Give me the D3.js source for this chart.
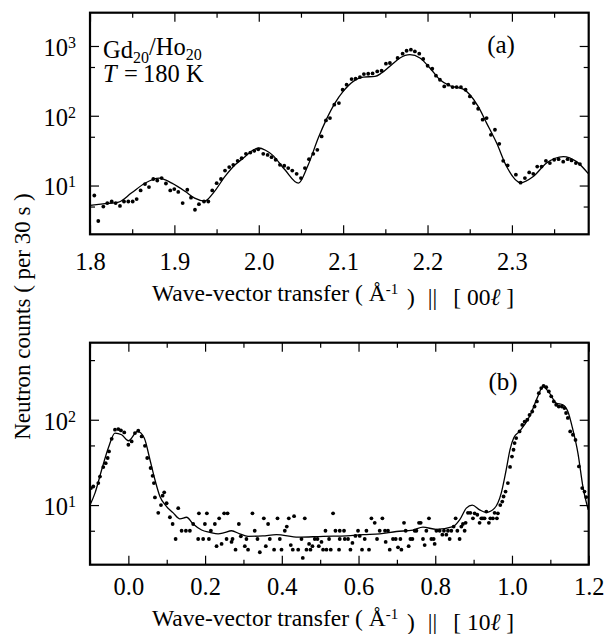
<!DOCTYPE html>
<html>
<head>
<meta charset="utf-8">
<script src="https://cdn.jsdelivr.net/npm/d3@7"></script>
<style>
  body { margin: 0; background: #fff; }
  text { font-family: "Liberation Serif", "Times New Roman", serif; fill: #000; }
</style>
</head>
<body>
<svg id="chart" width="607" height="634"></svg>
<script>
// ---- panel (a): [00l] scan, measured points ----
const qA = [1.8051, 1.8098, 1.8158, 1.8205, 1.8257, 1.8304, 1.8355, 1.8403, 1.8454, 1.8506,
  1.8553, 1.8600, 1.8652, 1.8699, 1.8750, 1.8797, 1.8849, 1.8900, 1.8951, 1.8999,
  1.9046, 1.9098, 1.9153, 1.9197, 1.9244, 1.9291, 1.9351, 1.9402, 1.9449, 1.9501,
  1.9552, 1.9600, 1.9650, 1.9698, 1.9750, 1.9797, 1.9848, 1.9900, 1.9947, 1.9994,
  2.0053, 2.0105, 2.0152, 2.0200, 2.0251, 2.0302, 2.0349, 2.0397, 2.0449, 2.0500,
  2.0547, 2.0595, 2.0646, 2.0694, 2.0745, 2.0796, 2.0844, 2.0895, 2.0950, 2.0994,
  2.1041, 2.1100, 2.1148, 2.1199, 2.1246, 2.1297, 2.1349, 2.1404, 2.1456, 2.1507,
  2.1554, 2.1645, 2.1705, 2.1752, 2.1803, 2.1850, 2.1902, 2.1949, 2.2001, 2.2056,
  2.2100, 2.2147, 2.2198, 2.2246, 2.2297, 2.2345, 2.2396, 2.2451, 2.2502, 2.2550,
  2.2600, 2.2653, 2.2700, 2.2751, 2.2799, 2.2850, 2.2897, 2.2949, 2.3047, 2.3103,
  2.3154, 2.3205, 2.3253, 2.3300, 2.3352, 2.3403, 2.3450, 2.3501, 2.3553, 2.3608,
  2.3660, 2.3707, 2.3758, 2.3806];
const countsA = [7.2, 3.1, 5.0, 5.6, 5.9, 5.6, 5.1, 5.9, 5.9, 5.9,
  6.4, 8.5, 10.5, 9.5, 12.4, 11.8, 12.8, 10.7, 8.5, 8.9,
  8.1, 5.6, 8.7, 6.7, 4.5, 5.4, 5.9, 5.9, 8.5, 10.8,
  12.4, 16.4, 18.4, 19.8, 22.6, 24.7, 28.5, 29.7, 31.4, 33,
  28.5, 27.5, 25.5, 23.4, 19.8, 19.2, 17.8, 16.4, 14.7, 12.8,
  17.8, 23.9, 28.5, 32.5, 50.5, 85.7, 92.7, 144, 152, 236,
  279, 336, 340, 359, 396, 400, 404, 432, 442, 557,
  570, 673, 775, 855, 885, 836, 775, 651, 521, 472,
  375, 328, 263, 279, 258, 258, 258, 236, 189, 152,
  126, 88, 92.7, 53.3, 63, 39.6, 22.6, 19.4, 14.3, 11.0,
  12.8, 15.4, 14.7, 18.7, 18.7, 22.6, 21, 23.4, 23.9, 22,
  23.9, 22.9, 21, 20.3];

// panel (a): fitted curve
const fitQA = [1.800, 1.818, 1.834, 1.849, 1.865, 1.882, 1.897, 1.913, 1.924, 1.936,
  1.946, 1.960, 1.972, 1.984, 1.992, 2.000, 2.008, 2.016, 2.031, 2.047,
  2.058, 2.0705, 2.080, 2.0903, 2.100, 2.112, 2.1238, 2.1377, 2.1456, 2.1575,
  2.1673, 2.1791, 2.191, 2.2028, 2.2147, 2.2265, 2.2423, 2.2502, 2.260, 2.270,
  2.2819, 2.2937, 2.3103, 2.3253, 2.3411, 2.3608, 2.3766, 2.3908];
const fitA = [5.2, 5.5, 5.8, 7.8, 10.8, 12.8, 10.8, 8.2, 6.6, 6.0,
  7.8, 13.5, 19.8, 26, 31.5, 34.5, 32, 27.5, 16.8, 10.8,
  19, 48, 88, 152, 223, 311, 359, 366, 410, 540,
  673, 750, 673, 483, 328, 269, 241, 200, 136, 78.5,
  40.6, 18.7, 11.0, 13.5, 21, 26, 22, 14.7];

// ---- panel (b): [10l] scan, measured points ----
const qB = [-0.0974, -0.0914, -0.0784, -0.074, -0.0654, -0.0591, -0.0539, -0.0505, -0.0435, -0.0349,
  -0.0263, -0.0193, -0.0107, 0.0, 0.0086, 0.0172, 0.0258, 0.0346, 0.0432, 0.0492,
  0.058, 0.0632, 0.0666, 0.0693, 0.0779, 0.085, 0.0893, 0.0935, 0.0997, 0.1083,
  0.1154, 0.1232, 0.13, 0.1388, 0.15, 0.1604, 0.169, 0.1839, 0.182, 0.195,
  0.1995, 0.2047, 0.21, 0.2151, 0.2255, 0.2299, 0.2367, 0.2430, 0.2497, 0.2586,
  0.2560, 0.269, 0.2716, 0.2794, 0.2880, 0.2932, 0.3036, 0.3120, 0.3078, 0.3234,
  0.3294, 0.3366, 0.3427, 0.3531, 0.3583, 0.3643, 0.3687, 0.3799, 0.3888, 0.3948,
  0.3992, 0.4078, 0.4130, 0.4182, 0.4234, 0.4320, 0.4286, 0.4427, 0.4513, 0.4547,
  0.4599, 0.4643, 0.4711, 0.4747, 0.4799, 0.4859, 0.4930, 0.4964, 0.5034, 0.5076,
  0.5164, 0.5138, 0.5232, 0.5276, 0.5336, 0.5398, 0.5510, 0.5622, 0.5492, 0.5510,
  0.5641, 0.5727, 0.5789, 0.5841, 0.5919, 0.5987, 0.6031, 0.6091, 0.6161, 0.6206,
  0.6273, 0.6336, 0.6422, 0.6482, 0.6552, 0.6622, 0.6690, 0.6708, 0.6768, 0.6813,
  0.6898, 0.6969, 0.7029, 0.7091, 0.7117, 0.7185, 0.7229, 0.7307, 0.7352, 0.7404,
  0.7464, 0.7508, 0.7576, 0.7620, 0.7680, 0.7724, 0.7768, 0.7836, 0.7898, 0.7958,
  0.7984, 0.8029, 0.8115, 0.8185, 0.8227, 0.8289, 0.8331, 0.8375, 0.8419, 0.8479,
  0.8531, 0.8576, 0.8635, 0.8680, 0.8721, 0.8766, 0.8792, 0.8852, 0.8914, 0.8982,
  0.9026, 0.9096, 0.9156, 0.9200, 0.9242, 0.9286, 0.9331, 0.9398, 0.9435, 0.9503,
  0.9547, 0.9607, 0.9633, 0.9695, 0.9747, 0.9781, 0.9833, 0.9893, 0.9950, 1.0000,
  1.0040, 1.0068, 1.0110, 1.0198, 1.0268, 1.0330, 1.0400, 1.0458, 1.0528, 1.0589,
  1.0650, 1.0700, 1.0763, 1.0823, 1.0893, 1.0960, 1.1023, 1.1090, 1.1153, 1.1220,
  1.1300, 1.1367, 1.1410, 1.1456, 1.1518, 1.1588, 1.1656, 1.1745, 1.1831, 1.1890,
  1.1935];
const countsB = [15.8, 16.5, 18.1, 21.6, 27.9, 31, 35.6, 42.5, 59.8, 76.4,
  77.8, 75, 71, 50.9, 55.7, 69.8, 74.3, 63.7, 49.5, 35.6,
  27.2, 22, 18.1, 12.3, 8.1, 10, 12.9, 14.1, 10.5, 7.2,
  6.0, 4, 9.2, 5, 5, 5, 6, 8, 4, 4,
  6, 8, 4, 5, 6, 3.3, 7, 3.5, 8, 8,
  4, 3.7, 4, 3, 6, 4.3, 3.3, 3, 4, 8,
  5, 4, 2.8, 7, 3.3, 6, 4, 3, 7, 4,
  3, 5, 5.6, 7, 3.4, 7.4, 3, 3, 4, 2.4,
  7, 3, 3.5, 3, 3.3, 4, 4, 3.3, 3.7, 3,
  3, 5, 4, 3, 8, 5, 5, 5, 3, 4,
  4, 4, 3, 3.6, 4.35, 5, 4.35, 3, 4, 5,
  3, 7, 6.2, 4, 5, 7, 5, 3.7, 5, 3,
  4, 4, 3.2, 4, 3, 6.2, 5, 3.3, 4, 4,
  5, 5, 6.2, 6.2, 4, 3.4, 5, 7, 4, 4,
  3.5, 5, 5, 4.5, 5, 4.5, 5, 4, 5, 5.6,
  7, 5, 4, 5.6, 6, 5, 6.2, 8.1, 8.1, 7,
  8, 7.7, 6.2, 7, 7, 7, 8.4, 6.2, 7, 7,
  8.1, 7, 8, 10, 11, 12.6, 14.4, 18.1, 28, 37,
  44.5, 53.3, 61, 73, 87, 95, 100, 114, 125, 143,
  164, 205, 235, 250, 241, 215, 188, 164, 150, 143,
  143, 137, 120, 105, 73, 66.7, 58, 28.4, 15.8, 14.4,
  12.4];

// panel (b): fitted curve
const fitQB = [-0.100, -0.087, -0.0696, -0.0523, -0.0349, -0.0175, 0.000, 0.024, 0.0414, 0.0563,
  0.0693, 0.0823, 0.0997, 0.1169, 0.1344, 0.1518, 0.169, 0.1909, 0.2125, 0.2341,
  0.250, 0.269, 0.290, 0.312, 0.350, 0.386, 0.4426, 0.5076, 0.5685, 0.6117,
  0.6552, 0.6987, 0.742, 0.768, 0.8026, 0.8461, 0.8635, 0.881, 0.8965, 0.9157,
  0.9331, 0.9547, 0.972, 0.985, 0.995, 1.005, 1.020, 1.0458, 1.0675, 1.0805,
  1.0979, 1.1153, 1.1326, 1.1457, 1.1589, 1.1719, 1.1849, 1.1988];
const fitB = [10, 13.8, 25.9, 46.6, 69.8, 66.7, 56.7, 73, 61, 34,
  19.8, 12.6, 9.6, 8.1, 6.9, 7.2, 6.0, 5.1, 4.8, 4.6,
  4.75, 5.0, 4.6, 4.3, 4.35, 4.5, 4.2, 4.3, 4.35, 4.5,
  4.6, 4.9, 5.1, 5.5, 5.2, 5.6, 6.7, 9.2, 10.0, 8.8,
  8.2, 9.2, 13.8, 26, 45, 62, 73, 109, 188, 245,
  205, 157, 150, 125, 76, 40.7, 16.5, 8.8];

// axis ticks
const xMajorA = [1.8, 1.9, 2.0, 2.1, 2.2, 2.3];
const xMinorA = [1.85, 1.95, 2.05, 2.15, 2.25, 2.35];
const yMajorA = [10, 100, 1000];
const yMinorA = [5, 50, 500];
const xMajorB = [0.0, 0.2, 0.4, 0.6, 0.8, 1.0, 1.2];
const xMinorB = [-0.1, 0.1, 0.3, 0.5, 0.7, 0.9, 1.1];
const yMajorB = [10, 100];
const yMinorB = [5, 50, 500];

const svg = d3.select("#chart");
const fontSize = 24.5;

function drawPanel(p) {
    const g = svg.append('g');
    const x = d3.scaleLinear().domain(p.xDomain).range([p.left, p.right]);
    const y = d3.scaleLog().domain(p.yDomain).range([p.bottom, p.top]);

    const clean = sel => {
        sel.select('.domain').remove();
        sel.attr('font-family', null).attr('font-size', fontSize);
        sel.selectAll('line').attr('stroke-width', 1.2);
    };

    // bottom axis with labels
    g.append('g')
        .attr('transform', `translate(0,${p.bottom})`)
        .call(d3.axisBottom(x).tickValues(p.xMajor).tickSize(-9).tickPadding(p.xPad)
            .tickFormat(d3.format('.1f')))
        .call(clean);
    g.append('g')
        .attr('transform', `translate(0,${p.bottom})`)
        .call(d3.axisBottom(x).tickValues(p.xMinor).tickSize(-5).tickFormat(''))
        .call(clean);
    // top axis, ticks only
    g.append('g')
        .attr('transform', `translate(0,${p.top})`)
        .call(d3.axisTop(x).tickValues(p.xMajor).tickSize(-9).tickFormat(''))
        .call(clean);
    g.append('g')
        .attr('transform', `translate(0,${p.top})`)
        .call(d3.axisTop(x).tickValues(p.xMinor).tickSize(-5).tickFormat(''))
        .call(clean);

    // left axis: powers of ten
    g.append('g')
        .attr('transform', `translate(${p.left},0)`)
        .call(d3.axisLeft(y).tickValues(p.yMajor).tickSize(-9).tickPadding(14).tickFormat(''))
        .call(clean)
        .selectAll('text')
        .attr('dy', '0.38em')
        .each(function(d) {
            const t = d3.select(this);
            t.append('tspan').text('10');
            t.append('tspan').attr('dy', '-0.5em').attr('font-size', 16)
                .text(Math.round(Math.log10(d)));
        });
    g.append('g')
        .attr('transform', `translate(${p.left},0)`)
        .call(d3.axisLeft(y).tickValues(p.yMinor.filter(v => v < p.yDomain[1])).tickSize(-5).tickFormat(''))
        .call(clean);
    // right axis, ticks only
    g.append('g')
        .attr('transform', `translate(${p.right},0)`)
        .call(d3.axisRight(y).tickValues(p.yMajor).tickSize(-9).tickFormat(''))
        .call(clean);
    g.append('g')
        .attr('transform', `translate(${p.right},0)`)
        .call(d3.axisRight(y).tickValues(p.yMinor.filter(v => v < p.yDomain[1])).tickSize(-5).tickFormat(''))
        .call(clean);

    // clip to the frame
    const clipId = 'clip-' + p.name;
    svg.append('clipPath').attr('id', clipId)
        .append('rect')
        .attr('x', p.left).attr('y', p.top)
        .attr('width', p.right - p.left).attr('height', p.bottom - p.top);

    const plot = g.append('g').attr('clip-path', `url(#${clipId})`);

    // fitted curve
    const line = d3.line()
        .x(d => x(d[0]))
        .y(d => y(d[1]))
        .curve(d3.curveMonotoneX);
    plot.append('path')
        .datum(p.fitQ.map((q, i) => [q, p.fit[i]]))
        .attr('d', line)
        .attr('fill', 'none')
        .attr('stroke', '#000')
        .attr('stroke-width', 1.3);

    // measured points
    plot.selectAll('circle')
        .data(p.q.map((q, i) => [q, p.counts[i]]))
        .enter()
        .append('circle')
        .attr('cx', d => x(d[0]))
        .attr('cy', d => y(d[1]))
        .attr('r', 1.9)
        .attr('fill', '#000');

    // frame
    g.append('rect')
        .attr('x', p.left).attr('y', p.top)
        .attr('width', p.right - p.left).attr('height', p.bottom - p.top)
        .attr('fill', 'none')
        .attr('stroke', '#000')
        .attr('stroke-width', 2.2);

    // x-axis title
    const title = g.append('text')
        .attr('x', 152)
        .attr('y', p.titleY)
        .attr('font-size', 23.5);
    title.append('tspan').text('Wave-vector transfer ( Å');
    title.append('tspan').attr('dy', '-0.45em').attr('font-size', 15).text('-1');
    title.append('tspan').attr('dy', '0.45em').attr('dx', 3).text(' )');
    title.append('tspan').attr('dx', 13).text('||');
    title.append('tspan').attr('dx', 16).text('[ ' + p.hkl);
    title.append('tspan').attr('font-style', 'italic').text('ℓ');
    title.append('tspan').text(' ]');

    // panel letter
    g.append('text')
        .attr('x', p.letterX).attr('y', p.letterY)
        .attr('text-anchor', 'middle')
        .attr('font-size', 25)
        .text(p.letter);

    return g;
}

const gA = drawPanel({
    name: 'a', q: qA, counts: countsA, fitQ: fitQA, fit: fitA,
    xDomain: [1.8, 2.391], yDomain: [2, 3000],
    left: 90, right: 588.7, top: 12.7, bottom: 234.3,
    xMajor: xMajorA, xMinor: xMinorA, yMajor: yMajorA, yMinor: yMinorA,
    xPad: 18, titleY: 301, hkl: '00',
    letter: '(a)', letterX: 501, letterY: 53
});

const gB = drawPanel({
    name: 'b', q: qB, counts: countsB, fitQ: fitQB, fit: fitB,
    xDomain: [-0.1, 1.2], yDomain: [2, 800],
    left: 90, right: 588.7, top: 342.7, bottom: 564.7,
    xMajor: xMajorB, xMinor: xMinorB, yMajor: yMajorB, yMinor: yMinorB,
    xPad: 13, titleY: 626, hkl: '10',
    letter: '(b)', letterX: 503, letterY: 390
});

// sample label in panel (a)
const sample = gA.append('text')
    .attr('x', 103).attr('y', 58)
    .attr('font-size', fontSize);
sample.append('tspan').text('Gd');
sample.append('tspan').attr('dy', '0.3em').attr('font-size', 16).text('20');
sample.append('tspan').attr('dy', '-0.3em').text('/Ho');
sample.append('tspan').attr('dy', '0.3em').attr('font-size', 16).text('20');

const temp = gA.append('text')
    .attr('y', 82)
    .attr('font-size', fontSize);
temp.append('tspan').attr('x', 103).attr('font-style', 'italic').text('T');
temp.append('tspan').attr('x', 124).text('=');
temp.append('tspan').attr('x', 143).text('180 K');

// shared y-axis title
svg.append('text')
    .attr('transform', 'translate(30,316.5) rotate(-90)')
    .attr('text-anchor', 'middle')
    .attr('font-size', 23)
    .text('Neutron counts ( per 30 s )');
</script>
</body>
</html>
